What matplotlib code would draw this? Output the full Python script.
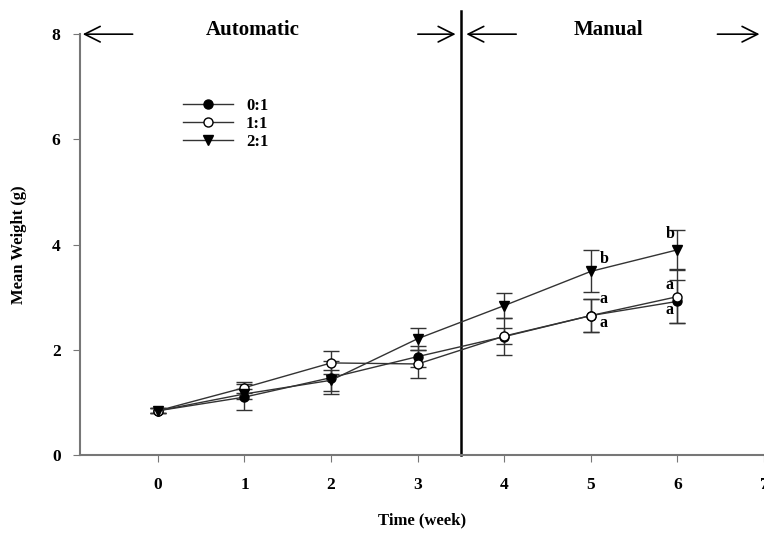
import matplotlib
matplotlib.use('Agg')
import matplotlib.pyplot as plt
from matplotlib.lines import Line2D
import numpy as np

plt.rcParams['font.family'] = ['Liberation Serif', 'DejaVu Serif']
plt.rcParams['font.weight'] = 'bold'

weeks = [0, 1, 2, 3, 4, 5, 6]
labels = ['0:1', '1:1', '2:1']
w01 = [0.84, 1.10, 1.47, 1.87, 2.25, 2.65, 2.92]
e01 = [0.05, 0.24, 0.31, 0.20, 0.35, 0.32, 0.41]
w11 = [0.84, 1.28, 1.75, 1.73, 2.26, 2.65, 3.01]
e11 = [0.05, 0.10, 0.22, 0.26, 0.15, 0.32, 0.50]
w21 = [0.84, 1.16, 1.42, 2.21, 2.84, 3.49, 3.90]
e21 = [0.05, 0.10, 0.20, 0.21, 0.24, 0.40, 0.37]

# significance letters (x, y, text)
sig_x = [5.1, 5.1, 5.1, 5.86, 5.86, 5.86]
sig_y = [3.72, 2.97, 2.50, 4.20, 3.23, 2.75]
sig_t = ['b', 'a', 'a', 'b', 'a', 'a']

fig = plt.figure(figsize=(7.64, 5.34), dpi=100)
ax = fig.add_axes([0.1047, 0.148, 0.8953, 0.788])

lc = '#333333'
ax.errorbar(weeks, w01, yerr=e01, color=lc, lw=1, marker='o', ms=6.5,
            mfc='black', mec='black', capsize=6, elinewidth=1, capthick=1)
ax.errorbar(weeks, w11, yerr=e11, color=lc, lw=1, marker='o', ms=6.5,
            mfc='white', mec='black', capsize=6, elinewidth=1, capthick=1)
ax.errorbar(weeks, w21, yerr=e21, color=lc, lw=1, marker='v', ms=7.5,
            mfc='black', mec='black', capsize=6, elinewidth=1, capthick=1)

for x, y, t in zip(sig_x, sig_y, sig_t):
    ax.text(x, y, t, fontsize=11.5, fontweight='bold', ha='left', va='center')

ax.set_xlim(-0.9, 7)
ax.set_ylim(0, 8)
ax.set_xticks(range(0, 8))
ax.set_yticks([0, 2, 4, 6, 8])
ax.tick_params(direction='out', length=5, labelsize=12.5, color='#777777')
ax.tick_params(axis='x', pad=11)
ax.tick_params(axis='y', pad=9)
for lab in ax.get_xticklabels() + ax.get_yticklabels():
    lab.set_fontweight('bold')
ax.spines['top'].set_visible(False)
ax.spines['right'].set_visible(False)
for s in ['left', 'bottom']:
    ax.spines[s].set_color('#777777')
    ax.spines[s].set_linewidth(1.5)

ax.set_xlabel('Time (week)', fontsize=12, fontweight='bold', labelpad=14)
ax.set_ylabel('Mean Weight (g)', fontsize=12, fontweight='bold', labelpad=18)

# phase divider
ax.plot([3.5, 3.5], [0, 8.45], color='black', lw=1.8, clip_on=False)

ap = dict(arrowstyle='->', lw=1.2, color='black', mutation_scale=28)
ax.annotate('', xy=(-0.9, 8), xytext=(-0.26, 8), arrowprops=ap, annotation_clip=False)
ax.annotate('', xy=(3.47, 8), xytext=(2.97, 8), arrowprops=ap, annotation_clip=False)
ax.annotate('', xy=(3.53, 8), xytext=(4.17, 8), arrowprops=ap, annotation_clip=False)
ax.annotate('', xy=(6.98, 8), xytext=(6.43, 8), arrowprops=ap, annotation_clip=False)
ax.text(1.1, 8.08, 'Automatic', fontsize=15, fontweight='bold', ha='center', va='center')
ax.text(5.2, 8.08, 'Manual', fontsize=15, fontweight='bold', ha='center', va='center')

handles = [
    Line2D([], [], color=lc, lw=1, marker='o', ms=6.5, mfc='black', mec='black'),
    Line2D([], [], color=lc, lw=1, marker='o', ms=6.5, mfc='white', mec='black'),
    Line2D([], [], color=lc, lw=1, marker='v', ms=7.5, mfc='black', mec='black'),
]
ax.legend(handles, labels, loc='upper left', bbox_to_anchor=(0.128, 0.885),
          frameon=False, prop={'weight': 'bold', 'size': 12},
          handlelength=3.0, labelspacing=0.12)

fig.savefig('out.png', dpi=100)
